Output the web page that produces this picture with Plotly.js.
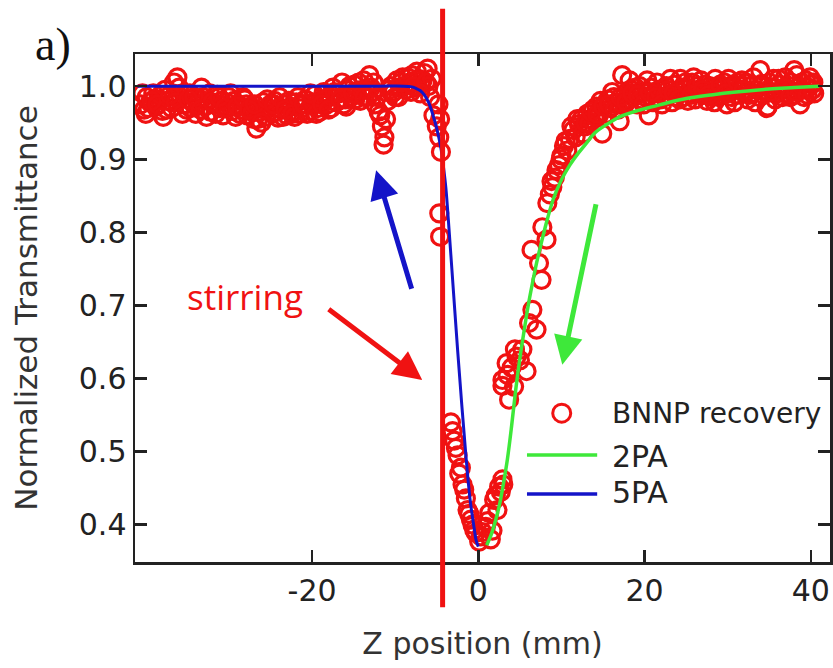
<!DOCTYPE html>
<html><head><meta charset="utf-8">
<script src="https://cdn.plot.ly/plotly-3.0.1.min.js"></script>
<style>html,body{margin:0;padding:0;background:#fff;overflow:hidden}#chart{width:833px;height:668px}</style>
</head><body><div id="chart"></div>
<script>
// ---- measured data: left plateau ----
const leftX = [-40.6,-40.2,-39.9,-39.5,-39.1,-38.8,-38.4,-38.0,-37.7,-37.3,-36.9,-36.6,-36.2,-35.8,-35.5,-35.1,-34.7,-34.4,-34.0,-33.6,-33.3,-32.9,-32.5,-32.2,-31.8,-31.4,-31.1,-30.7,-30.3,-30.0,-29.6,-29.2,-28.9,-28.5,-28.1,-27.8,-27.4,-27.0,-26.7,-26.3,-25.9,-25.6,-25.2,-24.8,-24.5,-24.1,-23.7,-23.4,-23.0,-22.6,-22.3,-21.9,-21.5,-21.2,-20.8,-20.4,-20.1,-19.7,-19.3,-19.0,-18.6,-18.2,-17.9,-17.5,-17.1,-16.8,-16.4,-16.0,-15.7,-15.3,-14.9,-14.6,-14.2,-13.8,-13.5,-13.1,-12.7,-12.4,-12.0,-11.6,-11.3,-10.9,-10.5,-10.2,-9.8,-9.4,-9.1,-8.7,-8.3,-8.0,-7.6,-7.2,-6.9,-6.5,-6.1,-5.8,-5.4,-5.0];
const leftY = [0.975,0.968,0.985,0.978,0.990,0.972,0.982,0.966,0.995,0.980,0.970,1.005,1.012,0.985,0.975,0.968,0.990,0.978,0.962,0.983,0.998,0.972,0.980,0.965,0.975,0.988,0.970,0.960,0.978,0.985,0.966,0.958,0.975,0.968,0.982,0.960,0.972,0.955,0.942,0.965,0.978,0.958,0.970,0.962,0.980,0.957,0.968,0.975,0.960,0.972,0.965,0.978,0.962,0.970,0.982,0.966,0.975,0.988,0.970,0.980,0.992,0.975,0.985,0.998,0.978,0.990,1.005,0.982,0.995,0.985,1.002,0.990,0.980,1.008,0.995,1.015,0.992,0.975,0.965,0.945,0.930,0.980,1.000,0.992,1.008,0.998,1.012,0.995,1.005,1.015,0.998,1.010,1.002,1.018,1.024,0.985,0.960,0.945];
const left2X = [-40.4,-39.7,-39.0,-38.2,-37.5,-36.7,-36.0,-35.3,-34.6,-33.8,-33.1,-32.3,-31.6,-30.9,-30.1,-29.4,-28.7,-27.9,-27.2,-26.5,-25.7,-25.0,-24.3,-23.5,-22.8,-22.1,-21.3,-20.6,-19.9,-19.1,-18.4,-17.7,-17.0,-16.2,-15.5,-14.8,-14.0,-13.3,-12.6,-11.8,-11.4,-11.1,-10.4,-9.6,-8.9,-8.1,-7.4,-6.7,-6.0,-5.6];
const left2Y = [0.990,0.970,0.982,0.988,0.968,0.985,0.998,0.990,0.970,0.975,0.985,0.990,0.962,0.980,0.970,0.980,0.962,0.975,0.965,0.955,0.968,0.975,0.965,0.958,0.980,0.958,0.975,0.962,0.978,0.965,0.982,0.970,0.990,0.975,1.000,0.982,0.995,0.985,1.005,0.960,0.920,0.955,0.990,0.985,1.000,0.992,1.020,1.008,1.000,1.010];
const left3X = [-40.0,-39.3,-38.6,-37.9,-37.1,-36.4,-35.6,-34.9,-34.2,-33.4,-32.7,-32.0,-31.2,-30.5,-29.8,-29.0,-28.3,-27.6,-26.9,-26.1,-25.4,-24.6,-23.9,-23.2,-22.4,-21.7,-21.0,-20.2,-19.5,-18.8,-18.0,-17.3,-16.6,-15.9,-15.1,-14.4,-13.7,-12.9,-12.2,-10.7,-10.0,-9.3,-8.5,-7.8,-7.0,-6.3];
const left3Y = [0.962,0.980,0.975,0.958,0.988,0.978,0.962,0.982,0.985,0.968,0.958,0.978,0.985,0.970,0.990,0.972,0.985,0.968,0.975,0.950,0.982,0.975,0.985,0.968,0.962,0.985,0.975,0.990,0.962,0.975,0.968,0.992,0.982,0.972,0.990,1.005,0.985,0.998,0.985,0.995,0.985,1.005,1.012,1.000,0.990,1.005];
// ---- measured data: dip and rise ----
const dipX = [-4.8,-4.6,-4.7,-4.5,-4.7,-4.6,-3.3,-3.1,-2.9,-2.7,-2.5,-2.3,-2.1,-1.9,-1.7,-1.5,-1.3,-1.1,-0.9,-0.7,-0.5,-0.3,0.1,0.3,0.5,0.9,1.3,1.5,1.9,2.3,2.5,2.9,1.1,1.7,2.1,2.7,3.0];
const dipY = [0.975,0.955,0.930,0.910,0.826,0.794,0.540,0.528,0.515,0.505,0.495,0.470,0.478,0.455,0.448,0.436,0.420,0.415,0.407,0.400,0.393,0.389,0.377,0.384,0.390,0.397,0.416,0.380,0.434,0.420,0.452,0.462,0.405,0.392,0.440,0.445,0.455];
const riseX = [2.9,3.4,3.7,4.3,2.9,3.5,4.0,4.6,5.0,5.3,5.8,4.4,6.1,6.5,7.0,6.4,7.3,7.6,7.7,8.2,8.3,8.6,8.9,9.2,9.4,9.7,8.8,9.9];
const riseY = [0.590,0.621,0.571,0.589,0.598,0.605,0.615,0.630,0.625,0.640,0.610,0.640,0.676,0.694,0.667,0.776,0.758,0.735,0.807,0.790,0.840,0.852,0.862,0.875,0.885,0.892,0.870,0.900];
// ---- measured data: right plateau ----
const rightX = [10.0,10.3,10.7,11.0,11.4,11.7,12.1,12.4,12.8,13.1,13.5,13.8,14.2,14.5,14.9,15.2,15.6,15.9,16.3,16.6,17.0,17.3,17.7,18.0,18.4,18.7,19.1,19.4,19.8,20.1,20.5,20.8,21.2,21.5,21.9,22.2,22.6,22.9,23.3,23.6,24.0,24.3,24.7,25.0,25.4,25.7,26.1,26.4,26.8,27.1,27.5,27.8,28.2,28.5,28.9,29.2,29.6,29.9,30.3,30.6,31.0,31.3,31.7,32.0,32.4,32.7,33.1,33.4,33.8,34.1,34.5,34.8,35.2,35.5,35.9,36.2,36.6,36.9,37.3,37.6,38.0,38.3,38.7,39.0,39.4,39.7,40.1,40.4];
const rightY = [0.905,0.918,0.912,0.928,0.940,0.930,0.948,0.955,0.945,0.962,0.955,0.968,0.972,0.960,0.935,0.975,0.982,0.970,0.985,0.978,0.952,1.015,0.990,0.982,0.995,0.985,0.975,1.000,0.992,0.985,0.960,0.998,0.990,1.005,0.982,0.995,1.000,0.988,0.978,1.002,0.992,1.010,0.985,0.998,0.990,1.005,0.982,0.995,1.008,0.988,0.980,1.000,0.992,1.010,0.985,0.998,1.005,0.975,0.992,1.002,0.988,0.995,1.008,0.990,0.982,1.000,1.012,0.995,0.985,1.003,0.992,0.972,0.998,1.010,0.990,1.002,0.985,1.012,0.995,1.005,0.988,1.015,0.975,0.995,1.008,0.998,1.002,0.990];
const right2X = [10.5,11.2,11.9,12.6,13.3,14.0,14.7,15.4,16.1,16.8,17.5,18.2,18.9,19.6,20.3,21.0,21.7,22.4,23.1,23.8,24.5,25.2,25.9,26.6,27.3,28.0,28.7,29.4,30.1,30.8,31.5,32.2,32.9,33.9,34.3,35.0,35.7,36.4,37.1,38.0,38.5,39.2,39.9,40.3];
const right2Y = [0.925,0.945,0.955,0.935,0.948,0.958,0.980,0.962,0.992,0.968,0.975,1.008,0.998,0.982,1.008,0.978,0.995,0.985,1.010,0.985,0.998,0.980,1.012,0.990,1.002,0.985,0.995,0.988,1.010,0.978,1.000,1.005,0.990,1.022,0.988,1.005,0.982,0.995,0.990,1.022,0.998,0.985,1.012,1.005];
const right3X = [12.9,13.6,14.3,15.0,15.7,16.4,17.1,17.8,18.5,19.2,19.9,20.6,21.4,22.1,22.8,23.5,24.2,24.9,25.6,26.3,27.0,27.7,28.4,29.1,29.8,30.5,31.2,31.9,32.6,33.3,34.0,34.7,35.4,36.1,36.8,37.5,38.2,38.9,39.6,40.2];
const right3Y = [0.950,0.965,0.962,0.972,0.975,0.968,0.985,0.978,0.990,0.988,0.975,0.992,0.985,0.975,0.995,0.990,0.982,1.005,0.988,1.000,0.995,0.988,0.978,1.002,0.990,0.985,1.005,0.995,0.988,0.978,1.000,0.970,0.992,1.010,0.998,0.985,0.992,1.005,0.988,0.995];
// ---- fits ----
const fit2paX = [1.0,1.5,2.0,2.5,3.0,3.5,4.0,4.5,5.0,5.5,6.0,6.5,7.0,7.5,8.0,9.0,10.0,11.0,12.0,13.0,14.0,15.5,17.0,19.0,21.0,23.0,25.0,28.0,31.0,35.0,38.0,41.0];
const fit2paY = [0.372,0.385,0.403,0.425,0.455,0.490,0.535,0.585,0.628,0.665,0.700,0.730,0.758,0.782,0.805,0.845,0.872,0.892,0.908,0.922,0.936,0.948,0.958,0.966,0.972,0.978,0.983,0.988,0.992,0.996,0.998,1.000];
const fit5paX = [-41,-30,-20,-12,-9,-8,-7.5,-7,-6.5,-6,-5.5,-5,-4.5,-4.2,-3.9,-3.5,-3.0,-2.5,-2.0,-1.5,-1.0,-0.5,-0.25,0];
const fit5paY = [1.0,1.0,1.0,1.0,1.0,0.999,0.997,0.994,0.988,0.978,0.962,0.942,0.915,0.890,0.860,0.800,0.720,0.640,0.565,0.495,0.435,0.395,0.378,0.370];
// ---- axes ----
const xTickVals = [-20,0,20,40];
const xTickText = ['-20','0','20','40'];
const yTickVals = [0.4,0.5,0.6,0.7,0.8,0.9,1.0];
const yTickText = ['0.4','0.5','0.6','0.7','0.8','0.9','1.0'];
const legendLabels = ['BNNP recovery','2PA','5PA'];
const stirX = -4.3;

const RED='#f01212', GREEN='#3ee83a', BLUE='#1414c8';
const ptsX = leftX.concat(left2X, left3X, dipX, riseX, rightX, right2X, right3X);
const ptsY = leftY.concat(left2Y, left3Y, dipY, riseY, rightY, right2Y, right3Y);

const traces = [
  {x:ptsX, y:ptsY, type:'scatter', mode:'markers', name:legendLabels[0],
   marker:{symbol:'circle-open', size:17, color:RED, line:{width:3.2, color:RED}}},
  {x:fit2paX, y:fit2paY, type:'scatter', mode:'lines', name:legendLabels[1], line:{color:GREEN, width:3.5, shape:'spline'}},
  {x:fit5paX, y:fit5paY, type:'scatter', mode:'lines', name:legendLabels[2], line:{color:BLUE, width:3, shape:'spline'}}
];
const axFont = {family:'DejaVu Sans', size:30, color:'#222'};
const layout = {
  width:833, height:668, showlegend:false,
  paper_bgcolor:'#fff', plot_bgcolor:'#fff',
  margin:{l:135, r:3, t:54, b:106, autoexpand:false},
  xaxis:{range:[-41.3,42.3], tickvals:xTickVals, ticktext:xTickText, ticks:'inside', ticklen:12, tickwidth:2.5, tickcolor:'#222',
    showline:true, linewidth:2.5, linecolor:'#222', mirror:'ticks', showgrid:false, zeroline:false,
    tickfont:axFont, title:{text:'Z position (mm)', font:{family:'DejaVu Sans', size:30, color:'#333'}, standoff:27}},
  yaxis:{range:[0.349,1.044], tickvals:yTickVals, ticktext:yTickText, ticks:'inside', ticklen:12, tickwidth:2.5, tickcolor:'#222',
    showline:true, linewidth:2.5, linecolor:'#222', mirror:'ticks', showgrid:false, zeroline:false,
    tickfont:axFont, title:{text:'Normalized Transmittance', font:{family:'DejaVu Sans', size:31, color:'#333'}, standoff:32}},
  shapes:[
    {type:'line', xref:'x', yref:'paper', x0:stirX, x1:stirX, y0:-0.089, y1:1.089, line:{color:RED, width:5}, layer:'above'},
    {type:'circle', xref:'paper', yref:'paper', xsizemode:'pixel', ysizemode:'pixel', xanchor:0.614, yanchor:0.293, x0:-9, x1:9, y0:-9, y1:9, line:{color:RED, width:3}},
    {type:'line', xref:'paper', yref:'paper', x0:0.564, x1:0.665, y0:0.2106, y1:0.2106, line:{color:GREEN, width:3.5}},
    {type:'line', xref:'paper', yref:'paper', x0:0.564, x1:0.665, y0:0.1339, y1:0.1339, line:{color:BLUE, width:3.5}}
  ],
  annotations:[
    {text:'a)', xref:'paper', yref:'paper', x:-0.147, y:1.018, xanchor:'left', yanchor:'middle', showarrow:false, font:{family:'Liberation Serif', size:46, color:'#111'}},
    {text:'stirring', xref:'x', yref:'y', x:-28.1, y:0.712, showarrow:false, font:{family:'Open Sans', size:35, color:RED}},
    {text:'', xref:'x', yref:'y', x:-6.75, y:0.598, ax:-95, ay:-72, showarrow:true, arrowhead:2, arrowsize:1.15, arrowwidth:5, arrowcolor:RED, standoff:0},
    {text:'', xref:'x', yref:'y', x:-12.3, y:0.885, ax:36, ay:120, showarrow:true, arrowhead:2, arrowsize:1.15, arrowwidth:5, arrowcolor:BLUE, standoff:0},
    {text:'', xref:'x', yref:'y', x:10.1, y:0.619, ax:34, ay:-162, showarrow:true, arrowhead:2, arrowsize:1.15, arrowwidth:5, arrowcolor:GREEN, standoff:0},
    {text:legendLabels[0], xref:'paper', yref:'paper', x:0.6835, y:0.293, xanchor:'left', yanchor:'middle', showarrow:false, font:{family:'DejaVu Sans', size:28, color:'#222'}},
    {text:legendLabels[1], xref:'paper', yref:'paper', x:0.6835, y:0.207, xanchor:'left', yanchor:'middle', showarrow:false, font:{family:'DejaVu Sans', size:30, color:'#222'}},
    {text:legendLabels[2], xref:'paper', yref:'paper', x:0.6835, y:0.136, xanchor:'left', yanchor:'middle', showarrow:false, font:{family:'DejaVu Sans', size:30, color:'#222'}}
  ]
};
Plotly.newPlot('chart', traces, layout, {staticPlot:true, displayModeBar:false});
</script></body></html>
